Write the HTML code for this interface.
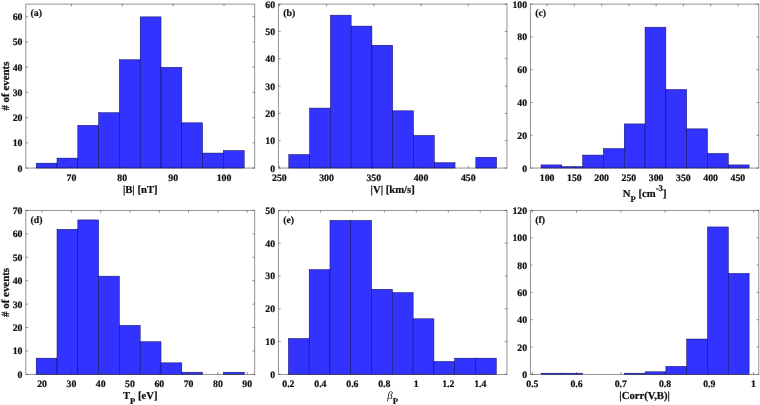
<!DOCTYPE html>
<html><head><meta charset="utf-8"><title>Histograms</title>
<style>html,body{margin:0;padding:0;background:#fff}svg{display:block}svg text{stroke:#111;stroke-width:.22px}svg text tspan.n{stroke:none}</style></head>
<body>
<svg width="760" height="405" viewBox="0 0 760 405" font-family="'Liberation Serif', serif" font-weight="bold" fill="#111" text-rendering="geometricPrecision">
<rect width="760" height="405" fill="#fff"/>
<rect x="36.20" y="163.16" width="20.80" height="4.89" fill="#3333ff" stroke="#0a0a5a" stroke-width="0.5"/>
<rect x="57.00" y="158.11" width="20.80" height="9.94" fill="#3333ff" stroke="#0a0a5a" stroke-width="0.5"/>
<rect x="77.80" y="125.32" width="20.80" height="42.73" fill="#3333ff" stroke="#0a0a5a" stroke-width="0.5"/>
<rect x="98.60" y="112.71" width="20.80" height="55.34" fill="#3333ff" stroke="#0a0a5a" stroke-width="0.5"/>
<rect x="119.40" y="59.74" width="20.80" height="108.31" fill="#3333ff" stroke="#0a0a5a" stroke-width="0.5"/>
<rect x="140.20" y="16.86" width="20.80" height="151.19" fill="#3333ff" stroke="#0a0a5a" stroke-width="0.5"/>
<rect x="161.00" y="67.31" width="20.80" height="100.74" fill="#3333ff" stroke="#0a0a5a" stroke-width="0.5"/>
<rect x="181.80" y="122.80" width="20.80" height="45.25" fill="#3333ff" stroke="#0a0a5a" stroke-width="0.5"/>
<rect x="202.60" y="153.07" width="20.80" height="14.98" fill="#3333ff" stroke="#0a0a5a" stroke-width="0.5"/>
<rect x="223.40" y="150.54" width="20.80" height="17.51" fill="#3333ff" stroke="#0a0a5a" stroke-width="0.5"/>
<rect x="25.80" y="4.10" width="228.90" height="163.95" fill="none" stroke="#262626" stroke-opacity="0.55" stroke-width="0.9"/>
<path d="M71.40 168.05v-2.3M71.40 4.10v2.3" stroke="#262626" stroke-opacity="0.6" stroke-width="0.8" fill="none"/>
<text x="71.40" y="181" font-size="9.8" text-anchor="middle">70</text>
<path d="M122.27 168.05v-2.3M122.27 4.10v2.3" stroke="#262626" stroke-opacity="0.6" stroke-width="0.8" fill="none"/>
<text x="122.27" y="181" font-size="9.8" text-anchor="middle">80</text>
<path d="M173.14 168.05v-2.3M173.14 4.10v2.3" stroke="#262626" stroke-opacity="0.6" stroke-width="0.8" fill="none"/>
<text x="173.14" y="181" font-size="9.8" text-anchor="middle">90</text>
<path d="M224.01 168.05v-2.3M224.01 4.10v2.3" stroke="#262626" stroke-opacity="0.6" stroke-width="0.8" fill="none"/>
<text x="224.01" y="181" font-size="9.8" text-anchor="middle">100</text>
<path d="M25.80 168.05h2.3M254.70 168.05h-2.3" stroke="#262626" stroke-opacity="0.6" stroke-width="0.8" fill="none"/>
<text x="22.50" y="172" font-size="9.8" text-anchor="end">0</text>
<path d="M25.80 142.83h2.3M254.70 142.83h-2.3" stroke="#262626" stroke-opacity="0.6" stroke-width="0.8" fill="none"/>
<text x="22.50" y="146" font-size="9.8" text-anchor="end">10</text>
<path d="M25.80 117.60h2.3M254.70 117.60h-2.3" stroke="#262626" stroke-opacity="0.6" stroke-width="0.8" fill="none"/>
<text x="22.50" y="121" font-size="9.8" text-anchor="end">20</text>
<path d="M25.80 92.38h2.3M254.70 92.38h-2.3" stroke="#262626" stroke-opacity="0.6" stroke-width="0.8" fill="none"/>
<text x="22.50" y="96" font-size="9.8" text-anchor="end">30</text>
<path d="M25.80 67.16h2.3M254.70 67.16h-2.3" stroke="#262626" stroke-opacity="0.6" stroke-width="0.8" fill="none"/>
<text x="22.50" y="71" font-size="9.8" text-anchor="end">40</text>
<path d="M25.80 41.93h2.3M254.70 41.93h-2.3" stroke="#262626" stroke-opacity="0.6" stroke-width="0.8" fill="none"/>
<text x="22.50" y="45" font-size="9.8" text-anchor="end">50</text>
<path d="M25.80 16.71h2.3M254.70 16.71h-2.3" stroke="#262626" stroke-opacity="0.6" stroke-width="0.8" fill="none"/>
<text x="22.50" y="20" font-size="9.8" text-anchor="end">60</text>
<text x="30.60" y="16" font-size="9.8">(a)</text>
<text x="140.25" y="193" font-size="10.7" text-anchor="middle">|B| [nT]</text>
<text transform="translate(8.6 86.08) rotate(-90)" font-size="10.9" text-anchor="middle"># of events</text>
<rect x="288.80" y="154.54" width="20.78" height="13.51" fill="#3333ff" stroke="#0a0a5a" stroke-width="0.5"/>
<rect x="309.58" y="108.09" width="20.78" height="59.97" fill="#3333ff" stroke="#0a0a5a" stroke-width="0.5"/>
<rect x="330.36" y="15.18" width="20.78" height="152.87" fill="#3333ff" stroke="#0a0a5a" stroke-width="0.5"/>
<rect x="351.14" y="26.11" width="20.78" height="141.94" fill="#3333ff" stroke="#0a0a5a" stroke-width="0.5"/>
<rect x="371.92" y="45.24" width="20.78" height="122.81" fill="#3333ff" stroke="#0a0a5a" stroke-width="0.5"/>
<rect x="392.70" y="110.82" width="20.78" height="57.23" fill="#3333ff" stroke="#0a0a5a" stroke-width="0.5"/>
<rect x="413.48" y="135.41" width="20.78" height="32.64" fill="#3333ff" stroke="#0a0a5a" stroke-width="0.5"/>
<rect x="434.26" y="162.74" width="20.78" height="5.32" fill="#3333ff" stroke="#0a0a5a" stroke-width="0.5"/>
<rect x="475.82" y="157.27" width="20.78" height="10.78" fill="#3333ff" stroke="#0a0a5a" stroke-width="0.5"/>
<rect x="278.40" y="4.10" width="228.60" height="163.95" fill="none" stroke="#262626" stroke-opacity="0.55" stroke-width="0.9"/>
<path d="M279.35 168.05v-2.3M279.35 4.10v2.3" stroke="#262626" stroke-opacity="0.6" stroke-width="0.8" fill="none"/>
<text x="279.35" y="181" font-size="9.8" text-anchor="middle">250</text>
<path d="M326.58 168.05v-2.3M326.58 4.10v2.3" stroke="#262626" stroke-opacity="0.6" stroke-width="0.8" fill="none"/>
<text x="326.58" y="181" font-size="9.8" text-anchor="middle">300</text>
<path d="M373.81 168.05v-2.3M373.81 4.10v2.3" stroke="#262626" stroke-opacity="0.6" stroke-width="0.8" fill="none"/>
<text x="373.81" y="181" font-size="9.8" text-anchor="middle">350</text>
<path d="M421.04 168.05v-2.3M421.04 4.10v2.3" stroke="#262626" stroke-opacity="0.6" stroke-width="0.8" fill="none"/>
<text x="421.04" y="181" font-size="9.8" text-anchor="middle">400</text>
<path d="M468.26 168.05v-2.3M468.26 4.10v2.3" stroke="#262626" stroke-opacity="0.6" stroke-width="0.8" fill="none"/>
<text x="468.26" y="181" font-size="9.8" text-anchor="middle">450</text>
<path d="M278.40 168.05h2.3M507.00 168.05h-2.3" stroke="#262626" stroke-opacity="0.6" stroke-width="0.8" fill="none"/>
<text x="275.10" y="172" font-size="9.8" text-anchor="end">0</text>
<path d="M278.40 140.73h2.3M507.00 140.73h-2.3" stroke="#262626" stroke-opacity="0.6" stroke-width="0.8" fill="none"/>
<text x="275.10" y="144" font-size="9.8" text-anchor="end">10</text>
<path d="M278.40 113.40h2.3M507.00 113.40h-2.3" stroke="#262626" stroke-opacity="0.6" stroke-width="0.8" fill="none"/>
<text x="275.10" y="117" font-size="9.8" text-anchor="end">20</text>
<path d="M278.40 86.08h2.3M507.00 86.08h-2.3" stroke="#262626" stroke-opacity="0.6" stroke-width="0.8" fill="none"/>
<text x="275.10" y="90" font-size="9.8" text-anchor="end">30</text>
<path d="M278.40 58.75h2.3M507.00 58.75h-2.3" stroke="#262626" stroke-opacity="0.6" stroke-width="0.8" fill="none"/>
<text x="275.10" y="62" font-size="9.8" text-anchor="end">40</text>
<path d="M278.40 31.42h2.3M507.00 31.42h-2.3" stroke="#262626" stroke-opacity="0.6" stroke-width="0.8" fill="none"/>
<text x="275.10" y="35" font-size="9.8" text-anchor="end">50</text>
<path d="M278.40 4.10h2.3M507.00 4.10h-2.3" stroke="#262626" stroke-opacity="0.6" stroke-width="0.8" fill="none"/>
<text x="275.10" y="8" font-size="9.8" text-anchor="end">60</text>
<text x="283.20" y="16" font-size="9.8">(b)</text>
<text x="392.70" y="193" font-size="10.7" text-anchor="middle">|V| [km/s]</text>
<rect x="541.00" y="164.92" width="20.81" height="3.13" fill="#3333ff" stroke="#0a0a5a" stroke-width="0.5"/>
<rect x="561.81" y="166.56" width="20.81" height="1.49" fill="#3333ff" stroke="#0a0a5a" stroke-width="0.5"/>
<rect x="582.62" y="155.08" width="20.81" height="12.97" fill="#3333ff" stroke="#0a0a5a" stroke-width="0.5"/>
<rect x="603.43" y="148.53" width="20.81" height="19.52" fill="#3333ff" stroke="#0a0a5a" stroke-width="0.5"/>
<rect x="624.24" y="123.93" width="20.81" height="44.12" fill="#3333ff" stroke="#0a0a5a" stroke-width="0.5"/>
<rect x="645.05" y="27.20" width="20.81" height="140.85" fill="#3333ff" stroke="#0a0a5a" stroke-width="0.5"/>
<rect x="665.86" y="89.50" width="20.81" height="78.55" fill="#3333ff" stroke="#0a0a5a" stroke-width="0.5"/>
<rect x="686.67" y="128.85" width="20.81" height="39.20" fill="#3333ff" stroke="#0a0a5a" stroke-width="0.5"/>
<rect x="707.48" y="153.44" width="20.81" height="14.61" fill="#3333ff" stroke="#0a0a5a" stroke-width="0.5"/>
<rect x="728.29" y="164.92" width="20.81" height="3.13" fill="#3333ff" stroke="#0a0a5a" stroke-width="0.5"/>
<rect x="530.40" y="4.10" width="228.40" height="163.95" fill="none" stroke="#262626" stroke-opacity="0.55" stroke-width="0.9"/>
<path d="M547.15 168.05v-2.3M547.15 4.10v2.3" stroke="#262626" stroke-opacity="0.6" stroke-width="0.8" fill="none"/>
<text x="547.15" y="181" font-size="9.8" text-anchor="middle">100</text>
<path d="M574.40 168.05v-2.3M574.40 4.10v2.3" stroke="#262626" stroke-opacity="0.6" stroke-width="0.8" fill="none"/>
<text x="574.40" y="181" font-size="9.8" text-anchor="middle">150</text>
<path d="M601.65 168.05v-2.3M601.65 4.10v2.3" stroke="#262626" stroke-opacity="0.6" stroke-width="0.8" fill="none"/>
<text x="601.65" y="181" font-size="9.8" text-anchor="middle">200</text>
<path d="M628.90 168.05v-2.3M628.90 4.10v2.3" stroke="#262626" stroke-opacity="0.6" stroke-width="0.8" fill="none"/>
<text x="628.90" y="181" font-size="9.8" text-anchor="middle">250</text>
<path d="M656.15 168.05v-2.3M656.15 4.10v2.3" stroke="#262626" stroke-opacity="0.6" stroke-width="0.8" fill="none"/>
<text x="656.15" y="181" font-size="9.8" text-anchor="middle">300</text>
<path d="M683.40 168.05v-2.3M683.40 4.10v2.3" stroke="#262626" stroke-opacity="0.6" stroke-width="0.8" fill="none"/>
<text x="683.40" y="181" font-size="9.8" text-anchor="middle">350</text>
<path d="M710.65 168.05v-2.3M710.65 4.10v2.3" stroke="#262626" stroke-opacity="0.6" stroke-width="0.8" fill="none"/>
<text x="710.65" y="181" font-size="9.8" text-anchor="middle">400</text>
<path d="M737.90 168.05v-2.3M737.90 4.10v2.3" stroke="#262626" stroke-opacity="0.6" stroke-width="0.8" fill="none"/>
<text x="737.90" y="181" font-size="9.8" text-anchor="middle">450</text>
<path d="M530.40 168.05h2.3M758.80 168.05h-2.3" stroke="#262626" stroke-opacity="0.6" stroke-width="0.8" fill="none"/>
<text x="527.10" y="172" font-size="9.8" text-anchor="end">0</text>
<path d="M530.40 135.26h2.3M758.80 135.26h-2.3" stroke="#262626" stroke-opacity="0.6" stroke-width="0.8" fill="none"/>
<text x="527.10" y="139" font-size="9.8" text-anchor="end">20</text>
<path d="M530.40 102.47h2.3M758.80 102.47h-2.3" stroke="#262626" stroke-opacity="0.6" stroke-width="0.8" fill="none"/>
<text x="527.10" y="106" font-size="9.8" text-anchor="end">40</text>
<path d="M530.40 69.68h2.3M758.80 69.68h-2.3" stroke="#262626" stroke-opacity="0.6" stroke-width="0.8" fill="none"/>
<text x="527.10" y="73" font-size="9.8" text-anchor="end">60</text>
<path d="M530.40 36.89h2.3M758.80 36.89h-2.3" stroke="#262626" stroke-opacity="0.6" stroke-width="0.8" fill="none"/>
<text x="527.10" y="40" font-size="9.8" text-anchor="end">80</text>
<path d="M530.40 4.10h2.3M758.80 4.10h-2.3" stroke="#262626" stroke-opacity="0.6" stroke-width="0.8" fill="none"/>
<text x="527.10" y="8" font-size="9.8" text-anchor="end">100</text>
<text x="535.20" y="16" font-size="9.8">(c)</text>
<text x="644.60" y="197" font-size="10.7" text-anchor="middle">N<tspan font-size="8.7" dy="5">P</tspan><tspan dy="-5"> [cm</tspan><tspan font-size="8.7" dy="-6">-3</tspan><tspan dy="6">]</tspan></text>
<rect x="36.20" y="358.15" width="20.80" height="16.25" fill="#3333ff" stroke="#0a0a5a" stroke-width="0.5"/>
<rect x="57.00" y="229.29" width="20.80" height="145.11" fill="#3333ff" stroke="#0a0a5a" stroke-width="0.5"/>
<rect x="77.80" y="219.92" width="20.80" height="154.48" fill="#3333ff" stroke="#0a0a5a" stroke-width="0.5"/>
<rect x="98.60" y="276.15" width="20.80" height="98.25" fill="#3333ff" stroke="#0a0a5a" stroke-width="0.5"/>
<rect x="119.40" y="325.35" width="20.80" height="49.05" fill="#3333ff" stroke="#0a0a5a" stroke-width="0.5"/>
<rect x="140.20" y="341.75" width="20.80" height="32.65" fill="#3333ff" stroke="#0a0a5a" stroke-width="0.5"/>
<rect x="161.00" y="362.84" width="20.80" height="11.56" fill="#3333ff" stroke="#0a0a5a" stroke-width="0.5"/>
<rect x="181.80" y="372.21" width="20.80" height="2.19" fill="#3333ff" stroke="#0a0a5a" stroke-width="0.5"/>
<rect x="223.40" y="372.21" width="20.80" height="2.19" fill="#3333ff" stroke="#0a0a5a" stroke-width="0.5"/>
<rect x="25.80" y="210.40" width="228.90" height="164.00" fill="none" stroke="#262626" stroke-opacity="0.55" stroke-width="0.9"/>
<path d="M42.10 374.40v-2.3M42.10 210.40v2.3" stroke="#262626" stroke-opacity="0.6" stroke-width="0.8" fill="none"/>
<text x="42.10" y="387" font-size="9.8" text-anchor="middle">20</text>
<path d="M71.40 374.40v-2.3M71.40 210.40v2.3" stroke="#262626" stroke-opacity="0.6" stroke-width="0.8" fill="none"/>
<text x="71.40" y="387" font-size="9.8" text-anchor="middle">30</text>
<path d="M100.70 374.40v-2.3M100.70 210.40v2.3" stroke="#262626" stroke-opacity="0.6" stroke-width="0.8" fill="none"/>
<text x="100.70" y="387" font-size="9.8" text-anchor="middle">40</text>
<path d="M130.00 374.40v-2.3M130.00 210.40v2.3" stroke="#262626" stroke-opacity="0.6" stroke-width="0.8" fill="none"/>
<text x="130.00" y="387" font-size="9.8" text-anchor="middle">50</text>
<path d="M159.30 374.40v-2.3M159.30 210.40v2.3" stroke="#262626" stroke-opacity="0.6" stroke-width="0.8" fill="none"/>
<text x="159.30" y="387" font-size="9.8" text-anchor="middle">60</text>
<path d="M188.60 374.40v-2.3M188.60 210.40v2.3" stroke="#262626" stroke-opacity="0.6" stroke-width="0.8" fill="none"/>
<text x="188.60" y="387" font-size="9.8" text-anchor="middle">70</text>
<path d="M217.90 374.40v-2.3M217.90 210.40v2.3" stroke="#262626" stroke-opacity="0.6" stroke-width="0.8" fill="none"/>
<text x="217.90" y="387" font-size="9.8" text-anchor="middle">80</text>
<path d="M247.20 374.40v-2.3M247.20 210.40v2.3" stroke="#262626" stroke-opacity="0.6" stroke-width="0.8" fill="none"/>
<text x="247.20" y="387" font-size="9.8" text-anchor="middle">90</text>
<path d="M25.80 374.40h2.3M254.70 374.40h-2.3" stroke="#262626" stroke-opacity="0.6" stroke-width="0.8" fill="none"/>
<text x="22.50" y="378" font-size="9.8" text-anchor="end">0</text>
<path d="M25.80 350.97h2.3M254.70 350.97h-2.3" stroke="#262626" stroke-opacity="0.6" stroke-width="0.8" fill="none"/>
<text x="22.50" y="354" font-size="9.8" text-anchor="end">10</text>
<path d="M25.80 327.54h2.3M254.70 327.54h-2.3" stroke="#262626" stroke-opacity="0.6" stroke-width="0.8" fill="none"/>
<text x="22.50" y="331" font-size="9.8" text-anchor="end">20</text>
<path d="M25.80 304.11h2.3M254.70 304.11h-2.3" stroke="#262626" stroke-opacity="0.6" stroke-width="0.8" fill="none"/>
<text x="22.50" y="308" font-size="9.8" text-anchor="end">30</text>
<path d="M25.80 280.69h2.3M254.70 280.69h-2.3" stroke="#262626" stroke-opacity="0.6" stroke-width="0.8" fill="none"/>
<text x="22.50" y="284" font-size="9.8" text-anchor="end">40</text>
<path d="M25.80 257.26h2.3M254.70 257.26h-2.3" stroke="#262626" stroke-opacity="0.6" stroke-width="0.8" fill="none"/>
<text x="22.50" y="261" font-size="9.8" text-anchor="end">50</text>
<path d="M25.80 233.83h2.3M254.70 233.83h-2.3" stroke="#262626" stroke-opacity="0.6" stroke-width="0.8" fill="none"/>
<text x="22.50" y="237" font-size="9.8" text-anchor="end">60</text>
<path d="M25.80 210.40h2.3M254.70 210.40h-2.3" stroke="#262626" stroke-opacity="0.6" stroke-width="0.8" fill="none"/>
<text x="22.50" y="214" font-size="9.8" text-anchor="end">70</text>
<text x="30.60" y="223" font-size="9.8">(d)</text>
<text x="140.25" y="399" font-size="10.7" text-anchor="middle">T<tspan font-size="8.7" dy="5">P</tspan><tspan dy="-5"> [eV]</tspan></text>
<text transform="translate(8.6 292.40) rotate(-90)" font-size="10.9" text-anchor="middle"># of events</text>
<rect x="288.40" y="338.47" width="20.79" height="35.93" fill="#3333ff" stroke="#0a0a5a" stroke-width="0.5"/>
<rect x="309.19" y="269.59" width="20.79" height="104.81" fill="#3333ff" stroke="#0a0a5a" stroke-width="0.5"/>
<rect x="329.98" y="220.39" width="20.79" height="154.01" fill="#3333ff" stroke="#0a0a5a" stroke-width="0.5"/>
<rect x="350.77" y="220.39" width="20.79" height="154.01" fill="#3333ff" stroke="#0a0a5a" stroke-width="0.5"/>
<rect x="371.56" y="289.27" width="20.79" height="85.13" fill="#3333ff" stroke="#0a0a5a" stroke-width="0.5"/>
<rect x="392.35" y="292.55" width="20.79" height="81.85" fill="#3333ff" stroke="#0a0a5a" stroke-width="0.5"/>
<rect x="413.14" y="318.79" width="20.79" height="55.61" fill="#3333ff" stroke="#0a0a5a" stroke-width="0.5"/>
<rect x="433.93" y="361.43" width="20.79" height="12.97" fill="#3333ff" stroke="#0a0a5a" stroke-width="0.5"/>
<rect x="454.72" y="358.15" width="20.79" height="16.25" fill="#3333ff" stroke="#0a0a5a" stroke-width="0.5"/>
<rect x="475.51" y="358.15" width="20.79" height="16.25" fill="#3333ff" stroke="#0a0a5a" stroke-width="0.5"/>
<rect x="278.40" y="210.40" width="228.60" height="164.00" fill="none" stroke="#262626" stroke-opacity="0.55" stroke-width="0.9"/>
<path d="M288.40 374.40v-2.3M288.40 210.40v2.3" stroke="#262626" stroke-opacity="0.6" stroke-width="0.8" fill="none"/>
<text x="288.40" y="387" font-size="9.8" text-anchor="middle">0.2</text>
<path d="M320.38 374.40v-2.3M320.38 210.40v2.3" stroke="#262626" stroke-opacity="0.6" stroke-width="0.8" fill="none"/>
<text x="320.38" y="387" font-size="9.8" text-anchor="middle">0.4</text>
<path d="M352.36 374.40v-2.3M352.36 210.40v2.3" stroke="#262626" stroke-opacity="0.6" stroke-width="0.8" fill="none"/>
<text x="352.36" y="387" font-size="9.8" text-anchor="middle">0.6</text>
<path d="M384.34 374.40v-2.3M384.34 210.40v2.3" stroke="#262626" stroke-opacity="0.6" stroke-width="0.8" fill="none"/>
<text x="384.34" y="387" font-size="9.8" text-anchor="middle">0.8</text>
<path d="M416.32 374.40v-2.3M416.32 210.40v2.3" stroke="#262626" stroke-opacity="0.6" stroke-width="0.8" fill="none"/>
<text x="416.32" y="387" font-size="9.8" text-anchor="middle">1</text>
<path d="M448.30 374.40v-2.3M448.30 210.40v2.3" stroke="#262626" stroke-opacity="0.6" stroke-width="0.8" fill="none"/>
<text x="448.30" y="387" font-size="9.8" text-anchor="middle">1.2</text>
<path d="M480.28 374.40v-2.3M480.28 210.40v2.3" stroke="#262626" stroke-opacity="0.6" stroke-width="0.8" fill="none"/>
<text x="480.28" y="387" font-size="9.8" text-anchor="middle">1.4</text>
<path d="M278.40 374.40h2.3M507.00 374.40h-2.3" stroke="#262626" stroke-opacity="0.6" stroke-width="0.8" fill="none"/>
<text x="275.10" y="378" font-size="9.8" text-anchor="end">0</text>
<path d="M278.40 341.60h2.3M507.00 341.60h-2.3" stroke="#262626" stroke-opacity="0.6" stroke-width="0.8" fill="none"/>
<text x="275.10" y="345" font-size="9.8" text-anchor="end">10</text>
<path d="M278.40 308.80h2.3M507.00 308.80h-2.3" stroke="#262626" stroke-opacity="0.6" stroke-width="0.8" fill="none"/>
<text x="275.10" y="312" font-size="9.8" text-anchor="end">20</text>
<path d="M278.40 276.00h2.3M507.00 276.00h-2.3" stroke="#262626" stroke-opacity="0.6" stroke-width="0.8" fill="none"/>
<text x="275.10" y="279" font-size="9.8" text-anchor="end">30</text>
<path d="M278.40 243.20h2.3M507.00 243.20h-2.3" stroke="#262626" stroke-opacity="0.6" stroke-width="0.8" fill="none"/>
<text x="275.10" y="247" font-size="9.8" text-anchor="end">40</text>
<path d="M278.40 210.40h2.3M507.00 210.40h-2.3" stroke="#262626" stroke-opacity="0.6" stroke-width="0.8" fill="none"/>
<text x="275.10" y="214" font-size="9.8" text-anchor="end">50</text>
<text x="283.20" y="223" font-size="9.8">(e)</text>
<text x="392.70" y="399" font-size="10.7" text-anchor="middle"><tspan class="n" font-style="italic" font-weight="normal" font-size="10.9">β</tspan><tspan font-size="8.7" dy="5">P</tspan></text>
<rect x="541.10" y="373.18" width="20.80" height="1.22" fill="#3333ff" stroke="#0a0a5a" stroke-width="0.5"/>
<rect x="561.90" y="373.18" width="20.80" height="1.22" fill="#3333ff" stroke="#0a0a5a" stroke-width="0.5"/>
<rect x="624.30" y="373.18" width="20.80" height="1.22" fill="#3333ff" stroke="#0a0a5a" stroke-width="0.5"/>
<rect x="645.10" y="371.82" width="20.80" height="2.58" fill="#3333ff" stroke="#0a0a5a" stroke-width="0.5"/>
<rect x="665.90" y="366.35" width="20.80" height="8.05" fill="#3333ff" stroke="#0a0a5a" stroke-width="0.5"/>
<rect x="686.70" y="339.02" width="20.80" height="35.38" fill="#3333ff" stroke="#0a0a5a" stroke-width="0.5"/>
<rect x="707.50" y="226.95" width="20.80" height="147.45" fill="#3333ff" stroke="#0a0a5a" stroke-width="0.5"/>
<rect x="728.30" y="273.42" width="20.80" height="100.98" fill="#3333ff" stroke="#0a0a5a" stroke-width="0.5"/>
<rect x="530.40" y="210.40" width="228.40" height="164.00" fill="none" stroke="#262626" stroke-opacity="0.55" stroke-width="0.9"/>
<path d="M532.25 374.40v-2.3M532.25 210.40v2.3" stroke="#262626" stroke-opacity="0.6" stroke-width="0.8" fill="none"/>
<text x="532.25" y="387" font-size="9.8" text-anchor="middle">0.5</text>
<path d="M576.51 374.40v-2.3M576.51 210.40v2.3" stroke="#262626" stroke-opacity="0.6" stroke-width="0.8" fill="none"/>
<text x="576.51" y="387" font-size="9.8" text-anchor="middle">0.6</text>
<path d="M620.77 374.40v-2.3M620.77 210.40v2.3" stroke="#262626" stroke-opacity="0.6" stroke-width="0.8" fill="none"/>
<text x="620.77" y="387" font-size="9.8" text-anchor="middle">0.7</text>
<path d="M665.03 374.40v-2.3M665.03 210.40v2.3" stroke="#262626" stroke-opacity="0.6" stroke-width="0.8" fill="none"/>
<text x="665.03" y="387" font-size="9.8" text-anchor="middle">0.8</text>
<path d="M709.29 374.40v-2.3M709.29 210.40v2.3" stroke="#262626" stroke-opacity="0.6" stroke-width="0.8" fill="none"/>
<text x="709.29" y="387" font-size="9.8" text-anchor="middle">0.9</text>
<path d="M753.55 374.40v-2.3M753.55 210.40v2.3" stroke="#262626" stroke-opacity="0.6" stroke-width="0.8" fill="none"/>
<text x="753.55" y="387" font-size="9.8" text-anchor="middle">1</text>
<path d="M530.40 374.40h2.3M758.80 374.40h-2.3" stroke="#262626" stroke-opacity="0.6" stroke-width="0.8" fill="none"/>
<text x="527.10" y="378" font-size="9.8" text-anchor="end">0</text>
<path d="M530.40 347.07h2.3M758.80 347.07h-2.3" stroke="#262626" stroke-opacity="0.6" stroke-width="0.8" fill="none"/>
<text x="527.10" y="351" font-size="9.8" text-anchor="end">20</text>
<path d="M530.40 319.73h2.3M758.80 319.73h-2.3" stroke="#262626" stroke-opacity="0.6" stroke-width="0.8" fill="none"/>
<text x="527.10" y="323" font-size="9.8" text-anchor="end">40</text>
<path d="M530.40 292.40h2.3M758.80 292.40h-2.3" stroke="#262626" stroke-opacity="0.6" stroke-width="0.8" fill="none"/>
<text x="527.10" y="296" font-size="9.8" text-anchor="end">60</text>
<path d="M530.40 265.07h2.3M758.80 265.07h-2.3" stroke="#262626" stroke-opacity="0.6" stroke-width="0.8" fill="none"/>
<text x="527.10" y="269" font-size="9.8" text-anchor="end">80</text>
<path d="M530.40 237.73h2.3M758.80 237.73h-2.3" stroke="#262626" stroke-opacity="0.6" stroke-width="0.8" fill="none"/>
<text x="527.10" y="241" font-size="9.8" text-anchor="end">100</text>
<path d="M530.40 210.40h2.3M758.80 210.40h-2.3" stroke="#262626" stroke-opacity="0.6" stroke-width="0.8" fill="none"/>
<text x="527.10" y="214" font-size="9.8" text-anchor="end">120</text>
<text x="535.20" y="223" font-size="9.8">(f)</text>
<text x="644.60" y="399" font-size="10.7" text-anchor="middle">|Corr(V,B)|</text>
</svg>
</body></html>
